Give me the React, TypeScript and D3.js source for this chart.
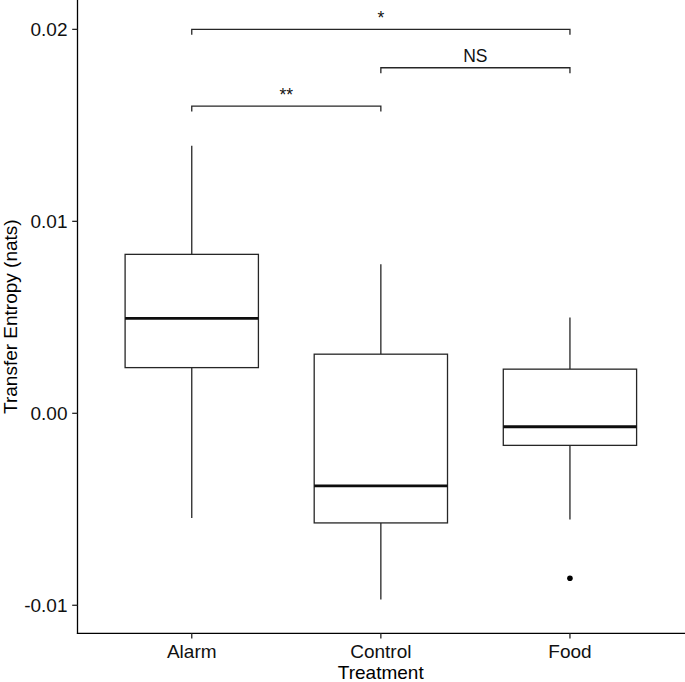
import React from "react";
import * as d3 from "d3";

const categories = ["Alarm", "Control", "Food"];
const whiskerLow = [-0.00545, -0.0097, -0.00553];
const q1 = [0.00238, -0.00571, -0.00167];
const medians = [0.00495, -0.00378, -0.0007];
const q3 = [0.00828, 0.00308, 0.0023];
const whiskerHigh = [0.01394, 0.00777, 0.00499];
const outlierCats = ["Food"];
const outlierValues = [-0.00859];

const yTicks = [-0.01, 0.0, 0.01, 0.02];
const yTickLabels = ["-0.01", "0.00", "0.01", "0.02"];

const bracketFrom = ["Alarm", "Control", "Alarm"];
const bracketTo = ["Control", "Food", "Food"];
const bracketLevel = [0.016, 0.018, 0.02];
const bracketLabel = ["**", "NS", "*"];

const W = 685;
const H = 682;
const FONT = "'Liberation Sans', Arial, Helvetica, sans-serif";

export default function App() {
  const panelLeft = 77.5;
  const panelRight = 684;
  const panelTop = 0;
  const panelBottom = 633.3;

  const y = d3.scaleLinear().domain([-0.01146, 0.02153]).range([panelBottom, panelTop]);
  const x = d3.scalePoint<string>().domain(categories).range([panelLeft + 0.8, panelRight - 0.6]).padding(0.6);
  const step = x.step();
  const boxW = step * 0.705;
  const tip = 0.00028;
  const lc = "#262626";
  const lw = 1.3;

  return (
    <svg
      width={W}
      height={H}
      style={{ position: "absolute", left: 0, top: 0, background: "#fff" }}
      fontFamily={FONT}
    >
      <rect x={0} y={0} width={W} height={H} fill="#fff" />
      {categories.map((c, i) => {
        const cx = x(c)!;
        return (
          <g key={c}>
            <line x1={cx} x2={cx} y1={y(whiskerHigh[i])} y2={y(q3[i])} stroke={lc} strokeWidth={lw} />
            <line x1={cx} x2={cx} y1={y(q1[i])} y2={y(whiskerLow[i])} stroke={lc} strokeWidth={lw} />
            <rect
              x={cx - boxW / 2}
              y={y(q3[i])}
              width={boxW}
              height={y(q1[i]) - y(q3[i])}
              fill="#fff"
              stroke={lc}
              strokeWidth={lw}
            />
            <line
              x1={cx - boxW / 2}
              x2={cx + boxW / 2}
              y1={y(medians[i])}
              y2={y(medians[i])}
              stroke="#0d0d0d"
              strokeWidth={2.8}
            />
          </g>
        );
      })}
      {outlierCats.map((c, i) => (
        <circle key={"o" + i} cx={x(c)!} cy={y(outlierValues[i])} r={2.8} fill="#000" />
      ))}
      {bracketFrom.map((f, i) => {
        const x1 = x(f)!;
        const x2 = x(bracketTo[i])!;
        const yy = y(bracketLevel[i]);
        const yt = y(bracketLevel[i] - tip);
        return (
          <g key={"b" + i}>
            <path
              d={`M${x1},${yt}L${x1},${yy}L${x2},${yy}L${x2},${yt}`}
              fill="none"
              stroke={lc}
              strokeWidth={lw}
            />
            <text x={(x1 + x2) / 2} y={yy - 5.5} textAnchor="middle" fontSize={17.5} fill="#111">
              {bracketLabel[i]}
            </text>
          </g>
        );
      })}
      <line x1={panelLeft} x2={panelLeft} y1={panelTop} y2={panelBottom + 0.6} stroke="#000" strokeWidth={1.3} />
      <line x1={panelLeft - 0.6} x2={panelRight + 1} y1={panelBottom} y2={panelBottom} stroke="#000" strokeWidth={1.3} />
      {yTicks.map((t, i) => (
        <g key={"yt" + i}>
          <line x1={panelLeft - 5.3} x2={panelLeft} y1={y(t)} y2={y(t)} stroke={lc} strokeWidth={lw} />
          <text x={67.5} y={y(t)} dy="0.36em" textAnchor="end" fontSize={19} fill="#111">
            {yTickLabels[i]}
          </text>
        </g>
      ))}
      {categories.map((c) => (
        <g key={"xt" + c}>
          <line x1={x(c)!} x2={x(c)!} y1={panelBottom} y2={panelBottom + 5.3} stroke={lc} strokeWidth={lw} />
          <text x={x(c)!} y={658.3} textAnchor="middle" fontSize={19} fill="#111">
            {c}
          </text>
        </g>
      ))}
      <text x={(panelLeft + panelRight) / 2} y={679} textAnchor="middle" fontSize={19} fill="#000">
        Treatment
      </text>
      <text
        transform={`translate(16.5,${(panelTop + panelBottom) / 2}) rotate(-90)`}
        textAnchor="middle"
        fontSize={19}
        fill="#000"
      >
        Transfer Entropy (nats)
      </text>
    </svg>
  );
}
